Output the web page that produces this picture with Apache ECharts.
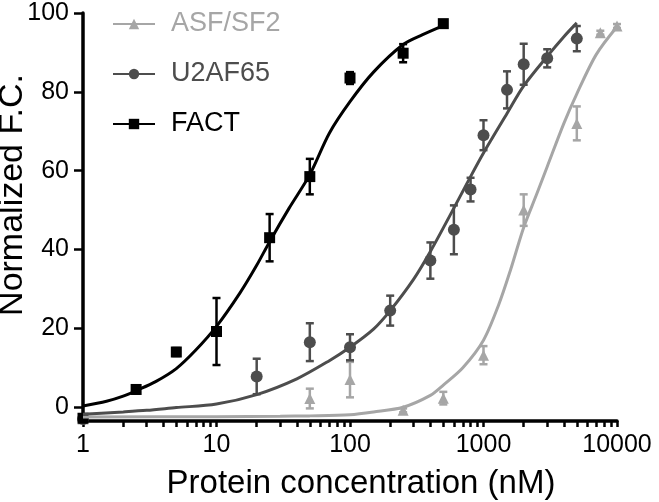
<!DOCTYPE html>
<html><head><meta charset="utf-8">
<script src="https://cdn.jsdelivr.net/npm/echarts@6/dist/echarts.min.js"></script>
<style>html,body{margin:0;padding:0;background:#fff}#c{width:659px;height:502px}</style>
</head><body><div id="c"></div>
<script>
// tick labels
const xTickLabels = [1, 10, 100, 1000, 10000];
const xMinorTicks = [2,3,4,5,6,7,8,9,20,30,40,50,60,70,80,90,200,300,400,500,600,700,800,900,2000,3000,4000,5000,6000,7000,8000,9000];
const yTickLabels = [0, 20, 40, 60, 80, 100];
const seriesNames = ['ASF/SF2', 'U2AF65', 'FACT'];

// ASF/SF2 measured points
const asfX   = [1, 50, 100, 250, 500, 1000, 2000, 5000, 7500, 10000];
const asfY   = [-3, 2.2, 7, -0.8, 2.3, 13.2, 50, 72, 95, 96.7];
const asfErr = [0, 2.5, 4.5, 0.5, 1.6, 2.3, 4, 4.3, 0.5, 0.5];
// ASF/SF2 fitted curve
const asfCurveX = [1, 10, 30, 50, 100, 150, 250, 400, 500, 700, 1000, 1300, 1600, 2000, 2500, 3000, 4000, 5000, 7000, 10000];
const asfCurveY = [-2.5, -2.4, -2.3, -2.2, -1.9, -1.2, 0, 3, 5.6, 10, 17, 26, 35, 45.6, 54, 61, 72, 79.5, 89.5, 96.5];

// U2AF65 measured points
const u2X   = [1, 20, 50, 100, 200, 400, 600, 800, 1000, 1500, 2000, 3000, 5000];
const u2Y   = [-3, 7.8, 16.5, 15.2, 24.5, 37.2, 45, 55.2, 69, 80.5, 87, 88.5, 93.5];
const u2Err = [0, 4.5, 4.8, 3.3, 3.8, 4.6, 6.2, 3, 3.8, 4.7, 5.2, 2.3, 3.2];
// U2AF65 fitted curve
const u2CurveX = [1, 2, 3, 5, 10, 20, 40, 70, 100, 150, 200, 300, 400, 600, 800, 1000, 1500, 2000, 3000, 4000, 5000];
const u2CurveY = [-1.8, -1.2, -0.8, -0.1, 0.8, 3.2, 7.2, 11.8, 15.2, 19.8, 24.5, 32.5, 39.5, 50.5, 58.5, 64.5, 74.5, 81.5, 89, 94, 97.5];

// FACT measured points
const factX   = [1, 2.5, 5, 10, 25, 50, 100, 250, 500];
const factY   = [-2.8, 4.5, 14, 19.2, 43, 58.5, 83.5, 89.8, 97.3];
const factErr = [0.5, 1, 1, 8.5, 6, 4.5, 1.5, 2.3, 0.5];
// FACT fitted curve
const factCurveX = [1, 1.5, 2, 2.5, 3.5, 5, 7, 10, 15, 20, 25, 35, 50, 70, 100, 150, 250, 350, 500];
const factCurveY = [0.3, 1.5, 2.8, 4.2, 6.5, 9.8, 14.5, 20.5, 29, 36, 42, 50.5, 59, 69.5, 77.5, 85, 92, 94.5, 96.8];

const FONT = '"Liberation Sans", Arial, Helvetica, sans-serif';
const colors = {'ASF/SF2': '#a6a6a6', 'U2AF65': '#4d4d4d', 'FACT': '#000000'};
const symbols = {'ASF/SF2': 'triangle', 'U2AF65': 'circle', 'FACT': 'rect'};
const symSize = {'ASF/SF2': 11, 'U2AF65': 12, 'FACT': 11};

function pairs(xs, ys) { return xs.map((x, i) => [x, ys[i]]); }

function curveSeries(name, xs, ys) {
  return {
    type: 'line', name: name, data: pairs(xs, ys), smooth: 0.3,
    showSymbol: false, symbol: symbols[name], symbolSize: symSize[name],
    lineStyle: {width: 3, color: colors[name]}, itemStyle: {color: colors[name]},
    silent: true, animation: false
  };
}
function errSeries(name, xs, ys, es) {
  const c = colors[name];
  return {
    type: 'custom', name: name + ' err',
    data: xs.map((x, i) => [x, ys[i] - es[i], ys[i] + es[i]]),
    encode: {x: 0, y: [1, 2]},
    renderItem: function (params, api) {
      const x = api.value(0);
      const lo = api.coord([x, api.value(1)]);
      const hi = api.coord([x, api.value(2)]);
      const cap = 4;
      const st = {stroke: c, lineWidth: 2.5};
      return {type: 'group', children: [
        {type: 'line', shape: {x1: lo[0], y1: lo[1], x2: hi[0], y2: hi[1]}, style: st},
        {type: 'line', shape: {x1: hi[0] - cap, y1: hi[1], x2: hi[0] + cap, y2: hi[1]}, style: st},
        {type: 'line', shape: {x1: lo[0] - cap, y1: lo[1], x2: lo[0] + cap, y2: lo[1]}, style: st}
      ]};
    },
    silent: true, animation: false
  };
}
function pointSeries(name, xs, ys) {
  return {
    type: 'scatter', name: name + ' pts', data: pairs(xs, ys),
    symbol: symbols[name], symbolSize: symSize[name],
    itemStyle: {color: colors[name], opacity: 1}, silent: true, animation: false
  };
}

const chart = echarts.init(document.getElementById('c'), null, {renderer: 'canvas'});
chart.setOption({
  animation: false,
  backgroundColor: '#fff',
  textStyle: {fontFamily: FONT},
  grid: {left: 83, right: 42, top: 13, bottom: 81, outerBoundsMode: 'none', containLabel: false},
  legend: {
    orient: 'vertical', left: 107, top: 4, itemGap: 20, itemWidth: 42, itemHeight: 13,
    textStyle: {fontSize: 27, fontFamily: FONT, lineHeight: 30, padding: [0, 0, 0, 11]},
    selectedMode: false,
    data: seriesNames.map(n => ({name: n, textStyle: {color: colors[n]}}))
  },
  xAxis: [
    {
      type: 'log', logBase: 10, min: 1, max: 10000,
      axisLine: {show: true, onZero: false, lineStyle: {color: '#000', width: 3.5}},
      axisTick: {show: true, length: 6, customValues: xTickLabels.concat(xMinorTicks), lineStyle: {color: '#000', width: 2.5}},
      axisLabel: {customValues: xTickLabels, fontSize: 25, color: '#000', margin: 12, fontFamily: FONT,
                  formatter: v => String(Math.round(v))},
      splitLine: {show: false}, minorTick: {show: false},
      name: 'Protein concentration (nM)', nameLocation: 'middle', nameGap: 46, nameMoveOverlap: false,
      nameTextStyle: {fontSize: 33, color: '#000', fontFamily: FONT, padding: [0, 0, 0, 22]}
    }
  ],
  yAxis: {
    type: 'value', min: -3.5, max: 100,
    axisLine: {show: true, onZero: false, lineStyle: {color: '#000', width: 3.5}},
    axisTick: {show: true, length: 9, customValues: yTickLabels, lineStyle: {color: '#000', width: 2.5}},
    axisLabel: {customValues: yTickLabels, fontSize: 25, color: '#000', margin: 14, fontFamily: FONT},
    splitLine: {show: false},
    name: 'Normalized F.C.', nameLocation: 'middle', nameGap: 53, nameMoveOverlap: false,
    nameTextStyle: {fontSize: 34, color: '#000', fontFamily: FONT, padding: [0, 0, 0, 44]}
  },
  series: [
    curveSeries('ASF/SF2', asfCurveX, asfCurveY),
    errSeries('ASF/SF2', asfX, asfY, asfErr),
    pointSeries('ASF/SF2', asfX, asfY),
    curveSeries('U2AF65', u2CurveX, u2CurveY),
    errSeries('U2AF65', u2X, u2Y, u2Err),
    pointSeries('U2AF65', u2X, u2Y),
    curveSeries('FACT', factCurveX, factCurveY),
    errSeries('FACT', factX, factY, factErr),
    pointSeries('FACT', factX, factY)
  ]
});
</script>
</body></html>
